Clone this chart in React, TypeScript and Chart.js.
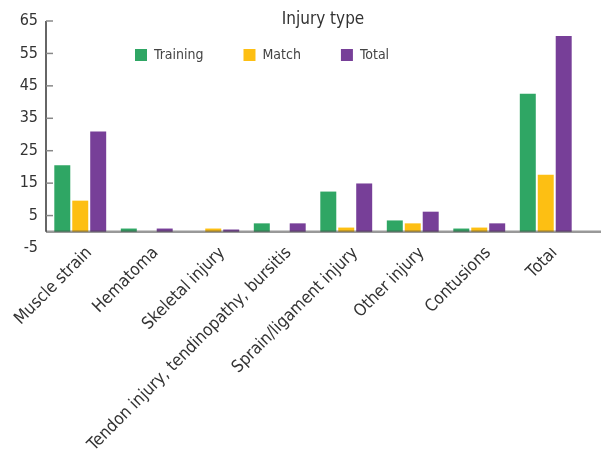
import React, { useEffect, useRef } from "react";
import { Chart, registerables } from "chart.js";

Chart.register(...registerables);

const categories = [
  "Muscle strain",
  "Hematoma",
  "Skeletal injury",
  "Tendon injury, tendinopathy, bursitis",
  "Sprain/ligament injury",
  "Other injury",
  "Contusions",
  "Total",
];
const training = [20.5, 1, 0, 2.6, 12.4, 3.5, 1, 42.6];
const match = [9.6, 0, 1, 0, 1.3, 2.6, 1.3, 17.6];
const total = [30.9, 1, 0.7, 2.6, 14.9, 6.2, 2.6, 60.4];

const yMin = -5;
const yMax = 65;
const yStep = 10;

const FONT = "'DejaVu Sans Condensed', 'Liberation Sans Narrow', Arial, sans-serif";

const axesPlugin = {
  id: "customAxes",
  afterLayout(chart: any) {
    const lg = chart.legend;
    if (lg) {
      const w = lg.width;
      lg.left = 95;
      lg.right = 95 + w;
      lg.top = 8;
      lg.bottom = 80;
      lg.height = 72;
    }
    const t = chart.titleBlock;
    if (t) {
      t.left += 10;
      t.right += 10;
    }
  },
  afterDatasetsDraw(chart: any) {
    const { ctx, chartArea, scales } = chart;
    const y = scales.y;
    const x0 = chartArea.left - 1;
    const zero = y.getPixelForValue(0);
    ctx.save();
    ctx.strokeStyle = "rgba(70,70,70,0.55)";
    ctx.lineWidth = 2.5;
    ctx.beginPath();
    ctx.moveTo(x0, zero);
    ctx.lineTo(chart.width, zero);
    ctx.stroke();
    ctx.strokeStyle = "#333";
    ctx.lineWidth = 1.5;
    ctx.beginPath();
    ctx.moveTo(x0, y.getPixelForValue(yMax));
    ctx.lineTo(x0, zero);
    ctx.stroke();
    ctx.strokeStyle = "#888";
    ctx.lineWidth = 1.5;
    y.ticks.forEach((tk: any) => {
      if (tk.value < 0) return;
      const py = y.getPixelForValue(tk.value);
      ctx.beginPath();
      ctx.moveTo(x0, py);
      ctx.lineTo(x0 + 7, py);
      ctx.stroke();
    });
    ctx.restore();
  },
};

export default function App() {
  const ref = useRef<HTMLCanvasElement>(null);
  useEffect(() => {
    if (!ref.current) return;
    Chart.defaults.font.family = FONT;
    const chart = new Chart(ref.current, {
      type: "bar",
      data: {
        labels: categories,
        datasets: [
          { label: "Training", data: training, backgroundColor: "#2FA664", borderWidth: 0 },
          { label: "Match", data: match, backgroundColor: "#FDBF13", borderWidth: 0 },
          { label: "Total", data: total, backgroundColor: "#773F98", borderWidth: 0 },
        ],
      },
      options: {
        responsive: false,
        animation: false,
        devicePixelRatio: 1,
        layout: { padding: { left: 0, right: 22, top: 0, bottom: 0 } },
        datasets: { bar: { categoryPercentage: 0.81, barPercentage: 0.89 } },
        plugins: {
          title: {
            display: true,
            text: "Injury type",
            fullSize: false,
            color: "#333",
            font: { size: 17, weight: "normal", lineHeight: 1.2 },
            padding: { top: 9, bottom: -9.4 },
          },
          legend: {
            display: true,
            position: "top",
            fullSize: false,
            align: "start",
            maxHeight: 1,
            labels: {
              boxWidth: 12,
              boxHeight: 12,
              padding: 40,
              color: "#444",
              font: { size: 14 },
            },
          },
          tooltip: { enabled: false },
        },
        scales: {
          x: {
            grid: { display: false, drawTicks: false },
            border: { display: false },
            ticks: {
              autoSkip: false,
              maxRotation: 45,
              minRotation: 45,
              padding: -5,
              labelOffset: 9,
              color: "#333",
              font: { size: 17 },
            },
            afterFit: (s: any) => {
              s.height = 202;
              s.paddingLeft = 0;
              s.paddingRight = 0;
            },
          },
          y: {
            min: yMin,
            max: yMax,
            grid: { display: false, drawTicks: false },
            border: { display: false },
            ticks: {
              stepSize: yStep,
              padding: 9,
              color: "#333",
              font: { size: 16 },
            },
            afterFit: (s: any) => {
              s.width = 47;
            },
          },
        },
      },
      plugins: [axesPlugin],
    });
    return () => chart.destroy();
  }, []);
  return (
    <div style={{ position: "fixed", left: 0, top: 0, width: 601, height: 450, background: "#fff" }}>
      <canvas ref={ref} width={601} height={450} style={{ display: "block" }} />
    </div>
  );
}
